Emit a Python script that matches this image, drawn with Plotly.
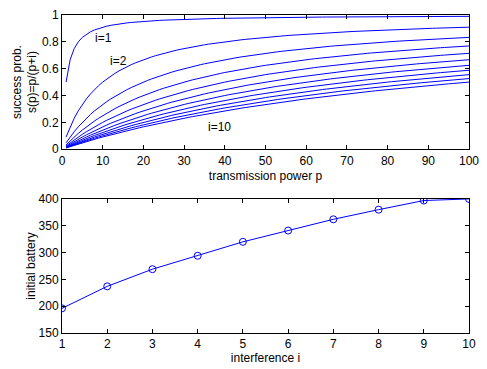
import numpy as np
import plotly.graph_objects as go
from plotly.subplots import make_subplots

# Top panel: transmission power grid and interference levels (curves are s(p)=p/(p+i), as labelled)
power_p = list(range(1, 101))
interference_levels = [1, 10, 20, 30, 40, 50, 60, 70, 80, 90, 100]

# Bottom panel: initial battery vs interference
interference_i = [1, 2, 3, 4, 5, 6, 7, 8, 9, 10]
initial_battery = [196, 237, 269, 294, 320, 341, 362, 380, 397, 400]

# Curve labels
label_text = ["i=1", "i=2", "i=10"]
label_x = [10.2, 13.9, 38.6]
label_y = [0.83, 0.655, 0.164]

BLUE = "rgb(0,0,255)"
FONT = "Liberation Sans, Arial, Helvetica, sans-serif"
FS = 12

fig = make_subplots(rows=2, cols=1)

p = np.array(power_p, dtype=float)
for i in interference_levels:
    fig.add_trace(go.Scatter(x=power_p, y=list(p / (p + i)), mode="lines",
                             line=dict(color=BLUE, width=1), showlegend=False,
                             hoverinfo="skip"), row=1, col=1)

fig.add_trace(go.Scatter(x=interference_i, y=initial_battery, mode="lines+markers",
                         line=dict(color=BLUE, width=1),
                         marker=dict(symbol="circle-open", size=7, color=BLUE,
                                     line=dict(width=1, color=BLUE)),
                         showlegend=False), row=2, col=1)

for t, x, y in zip(label_text, label_x, label_y):
    fig.add_annotation(x=x, y=y, text=t, showarrow=False, xref="x", yref="y",
                       font=dict(size=FS, color="black", family=FONT))

axis_common = dict(showline=True, linecolor="black", linewidth=1, mirror="allticks",
                   ticks="inside", ticklen=4, tickcolor="black", showgrid=False,
                   zeroline=False, tickfont=dict(size=FS, color="black", family=FONT))

fig.update_xaxes(range=[0, 100], tickvals=list(range(0, 101, 10)),
                 title=dict(text="transmission power p", standoff=5,
                            font=dict(size=FS, color="black", family=FONT)),
                 domain=[0, 1], row=1, col=1, **axis_common)
fig.update_yaxes(range=[0, 1], tickvals=[0, 0.2, 0.4, 0.6, 0.8, 1],
                 ticktext=["0", "0.2", "0.4", "0.6", "0.8", "1"],
                 title=dict(text="success prob.<br>s(p)=p/(p+i)", standoff=2,
                            font=dict(size=FS, color="black", family=FONT)),
                 domain=[0.578, 1.0], row=1, col=1, **axis_common)
fig.update_xaxes(range=[1, 10], tickvals=list(range(1, 11)),
                 title=dict(text="interference i", standoff=1,
                            font=dict(size=FS, color="black", family=FONT)),
                 domain=[0, 1], row=2, col=1, **axis_common)
fig.update_yaxes(range=[150, 400], tickvals=list(range(150, 401, 50)),
                 title=dict(text="initial battery", standoff=0,
                            font=dict(size=FS, color="black", family=FONT)),
                 domain=[0, 0.4216], row=2, col=1, **axis_common)

fig.update_layout(width=487, height=369, margin=dict(l=62, r=8, t=8, b=32),
                  paper_bgcolor="white", plot_bgcolor="white",
                  font=dict(family=FONT, size=FS, color="black"))

fig.write_html("out.html")
